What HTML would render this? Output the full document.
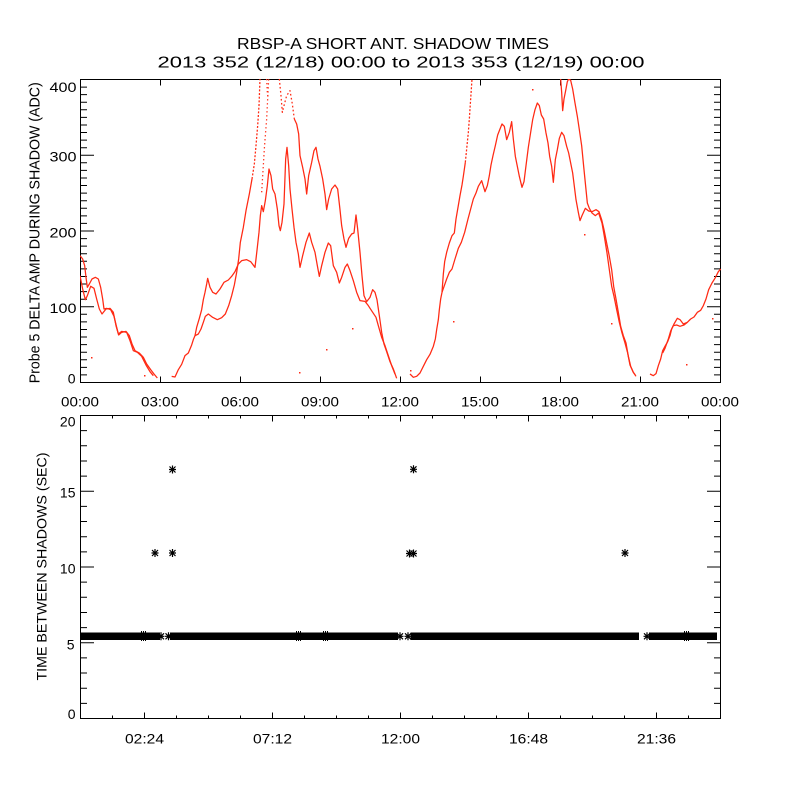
<!DOCTYPE html>
<html>
<head>
<meta charset="utf-8">
<style>
html,body{margin:0;padding:0;background:#fff;}
svg{display:block;}
text{font-family:"Liberation Sans","DejaVu Sans",sans-serif;fill:#000;}
</style>
</head>
<body>
<svg width="800" height="800" viewBox="0 0 800 800" xmlns="http://www.w3.org/2000/svg">
<rect x="0" y="0" width="800" height="800" fill="#fff"/>
<defs>
<clipPath id="cp1"><rect x="80" y="79" width="641" height="304"/></clipPath>
<g id="ast"><path d="M-3.5,0H3.5M0,-4V4M-3,-3L3,3M-3,3L3,-3" stroke="#000" stroke-width="1.2" fill="none"/></g>
</defs>

<!-- Titles -->
<text x="237" y="49" font-size="16" textLength="312" lengthAdjust="spacingAndGlyphs">RBSP-A SHORT ANT. SHADOW TIMES</text>
<text x="157.5" y="67.3" font-size="16" textLength="487" lengthAdjust="spacingAndGlyphs">2013 352 (12/18) 00:00 to 2013 353 (12/19) 00:00</text>

<!-- ===== TOP PANEL ===== -->
<rect x="80.5" y="79.5" width="640" height="303" fill="none" stroke="#000" stroke-width="1"/>
<g id="tyt" stroke="#000" stroke-width="1" fill="none">
<path d="M80.5,374.9h6.5M80.5,367.35h6.5M80.5,359.8h6.5M80.5,352.2h6.5M80.5,344.6h6.5M80.5,337.05h6.5M80.5,329.5h6.5M80.5,321.9h6.5M80.5,314.3h6.5M80.5,306.75h13.5M80.5,299.2h6.5M80.5,291.6h6.5M80.5,284h6.5M80.5,276.45h6.5M80.5,268.9h6.5M80.5,261.3h6.5M80.5,253.7h6.5M80.5,246.15h6.5M80.5,238.6h6.5M80.5,231h13.5M80.5,223.4h6.5M80.5,215.85h6.5M80.5,208.3h6.5M80.5,200.7h6.5M80.5,193.1h6.5M80.5,185.55h6.5M80.5,178h6.5M80.5,170.4h6.5M80.5,162.8h6.5M80.5,155.25h13.5M80.5,147.7h6.5M80.5,140.1h6.5M80.5,132.5h6.5M80.5,124.95h6.5M80.5,117.4h6.5M80.5,109.8h6.5M80.5,102.2h6.5M80.5,94.65h6.5M80.5,87.1h6.5"/>
</g>
<use href="#tyt" transform="translate(801,0) scale(-1,1)"/>
<g id="txt" stroke="#000" stroke-width="1" fill="none">
<path d="M160.5,382.5v-6M240.5,382.5v-6M320.5,382.5v-6M400.5,382.5v-6M480.5,382.5v-6M560.5,382.5v-6M640.5,382.5v-6"/>
</g>
<use href="#txt" transform="translate(0,462) scale(1,-1)"/>

<!-- top y labels -->
<g font-size="14" text-anchor="end">
<text x="76.5" y="92" textLength="27" lengthAdjust="spacingAndGlyphs">400</text>
<text x="76.5" y="161.7" textLength="27" lengthAdjust="spacingAndGlyphs">300</text>
<text x="76.5" y="237.5" textLength="27" lengthAdjust="spacingAndGlyphs">200</text>
<text x="76.5" y="313.2" textLength="27" lengthAdjust="spacingAndGlyphs">100</text>
<text x="75.5" y="383.3">0</text>
</g>
<!-- top x labels -->
<g font-size="14" text-anchor="middle">
<text x="80" y="406.7" textLength="38" lengthAdjust="spacingAndGlyphs">00:00</text>
<text x="160" y="406.7" textLength="38" lengthAdjust="spacingAndGlyphs">03:00</text>
<text x="240" y="406.7" textLength="38" lengthAdjust="spacingAndGlyphs">06:00</text>
<text x="320" y="406.7" textLength="38" lengthAdjust="spacingAndGlyphs">09:00</text>
<text x="400" y="406.7" textLength="38" lengthAdjust="spacingAndGlyphs">12:00</text>
<text x="480" y="406.7" textLength="38" lengthAdjust="spacingAndGlyphs">15:00</text>
<text x="560" y="406.7" textLength="38" lengthAdjust="spacingAndGlyphs">18:00</text>
<text x="640" y="406.7" textLength="38" lengthAdjust="spacingAndGlyphs">21:00</text>
<text x="720" y="406.7" textLength="38" lengthAdjust="spacingAndGlyphs">00:00</text>
</g>
<text transform="translate(39.5,383.3) rotate(-90)" font-size="15" textLength="301" lengthAdjust="spacingAndGlyphs">Probe 5 DELTA AMP DURING SHADOW (ADC)</text>

<!-- top data -->
<g clip-path="url(#cp1)">
<g transform="translate(80,79) scale(0.33333)" fill="none" stroke="#ff2a14" stroke-width="3.8" stroke-linejoin="round">
<polyline points="0,530 8,540 14,560 18,595 22,625 28,615 36,600 46,595 55,600 62,625 68,660 72,690 80,688 92,692 102,712 110,745 116,768 125,760 138,757 148,770 156,795 165,815 178,822 190,835 200,855 212,872 222,885 232,897"/>
<polyline points="0,590 8,630 16,662 22,650 32,622 42,628 50,660 58,690 66,705 78,690 90,688 100,700 108,740 115,765 125,757 140,760 150,785 160,815 172,820 185,832 198,858 210,878 220,890"/>
<polyline points="275,892 285,894 295,872 305,856 315,830 325,822 335,798 340,782 345,770"/>
<polyline points="345,770 350,745 358,718 365,692 370,662 375,640 380,615 383,598 390,625 398,640 408,645 420,630 432,610 445,603 455,592 465,578 475,555 485,545 500,542 512,548 525,565 528,540 532,505 537,460 541,410 545,380 550,398 556,365 562,320 567,270 573,290 578,330 585,345 592,390 597,440 601,455 606,430 612,375 617,240 621,205 626,260 630,330 636,390 642,445 648,490 655,525 660,565 668,530 678,490 688,462 695,490 705,520 712,560 718,592 725,560 735,520 745,492 752,500 760,560 770,580 778,612 785,595 795,565 802,555 810,575 820,605 830,640 840,665 855,667 865,680 878,700 888,715 895,740 905,775 915,800 925,830 935,860 945,885"/>
<polyline points="345,770 355,765 363,750 370,730 376,712 385,705 398,715 412,722 425,716 436,705 446,680 455,650 463,618 470,580 476,540 481,490 490,445 498,395 508,345 516,300"/>
<polyline points="516,300 523,255 528,200 533,140 537,80 540,0" stroke-dasharray="6 5"/>
<polyline points="598,0 603,50 607,100 612,80 620,50 630,35 637,75 643,120" stroke-dasharray="5 7"/>
<polyline points="643,120 650,135 656,165 660,230 668,265 675,300 680,345 686,290 695,250 702,215 708,205 714,240 720,262 728,300 735,345 740,392 746,360 755,330 765,318 773,330 780,392 785,440 792,480 798,505 806,478 815,465 822,462 828,408 833,450 840,520 846,590 852,650 860,668 870,655 878,632 885,640 891,662 898,710 905,760 912,795 920,818 930,848 940,870 950,898"/>
<polyline points="545,340 550,260 553,210 556,170 560,120 563,60 566,0" stroke-dasharray="4 8"/>
<polyline points="560,0 562,40 565,60" stroke-dasharray="4 8"/>
</g>
<g transform="translate(400,79) scale(0.33333)" fill="none" stroke="#ff2a14" stroke-width="3.8" stroke-linejoin="round">
<polyline points="30,885 40,895 50,892 60,882 70,862 80,842 90,826 100,802 106,780 110,752 115,722 118,692 122,660 126,640"/>
<polyline points="126,640 130,585 134,548 140,520 148,492 156,470 163,462 168,420 174,385 180,350 186,318 190,292 196,250"/>
<polyline points="196,250 200,210 205,160 208,120 212,60 216,0" stroke-dasharray="6 5"/>
<polyline points="126,640 133,620 140,600 148,580 156,570 165,540 175,508 184,490 194,460 204,420 212,390 220,360 228,342 235,322 245,305 255,338 262,320 268,290 273,258 279,230 286,200 293,168 300,150 306,135 313,142 320,182 328,160 335,128 340,180 346,232 352,262 358,292 366,325 372,308 378,260 385,205 392,160 398,122 405,92 412,72 418,80 424,108 431,120 438,162 444,192 449,232 455,262 460,310 466,242 472,212 478,178 485,160 492,170 500,202 506,222 512,252 518,282 523,322 528,362 535,400 540,425 546,410 556,388 566,396 576,398 588,392 597,398 605,422 612,452 620,492 628,532 635,572 641,622 648,660 655,700 662,742 670,770 678,792 685,832 692,862 700,880 708,892"/>
<polyline points="482,0 485,40 488,95 492,60 497,35 502,8 506,0 512,4 518,30 525,72 532,112 538,152 545,200 551,262 557,322 562,372 568,388 576,402 586,410 596,402 606,432 613,472 621,522 628,572 635,622 642,652 650,692 658,730 666,762 675,792 683,822 690,858 700,880 706,888"/>
<polyline points="750,885 760,890 768,884 775,860 782,840 788,815 796,800 803,788 810,770 815,750 822,735 832,718 840,722 850,735 862,730 872,720 882,714 892,700 902,694 910,680 918,660 926,632 936,612 946,596 955,578 962,570"/>
<polyline points="788,822 795,808 805,780 812,756 820,740 830,738 840,742 852,738 862,730"/>
</g>
<g fill="#ff2a14">
<rect x="91" y="357" width="1.5" height="1.5"/>
<rect x="144" y="375" width="1.5" height="1.5"/>
<rect x="299" y="372" width="1.5" height="1.5"/>
<rect x="326" y="349" width="1.5" height="1.5"/>
<rect x="352" y="328" width="1.5" height="1.5"/>
<rect x="410" y="370" width="1.5" height="1.5"/>
<rect x="453" y="321" width="1.5" height="1.5"/>
<rect x="532" y="89" width="1.5" height="1.5"/>
<rect x="584" y="234" width="1.5" height="1.5"/>
<rect x="611" y="323" width="1.5" height="1.5"/>
<rect x="686" y="364" width="1.5" height="1.5"/>
<rect x="712" y="318" width="1.5" height="1.5"/>
</g>
</g>

<!-- ===== BOTTOM PANEL ===== -->
<rect x="80.5" y="415.5" width="640" height="303" fill="none" stroke="#000" stroke-width="1"/>
<g id="byt" stroke="#000" stroke-width="1" fill="none">
<path d="M80.5,703.35h6.5M80.5,688.2h6.5M80.5,673.05h6.5M80.5,657.9h6.5M80.5,642.75h13.5M80.5,627.6h6.5M80.5,612.45h6.5M80.5,597.3h6.5M80.5,582.15h6.5M80.5,567h13.5M80.5,551.85h6.5M80.5,536.7h6.5M80.5,521.55h6.5M80.5,506.4h6.5M80.5,491.25h13.5M80.5,476.1h6.5M80.5,460.95h6.5M80.5,445.8h6.5M80.5,430.65h6.5"/>
</g>
<use href="#byt" transform="translate(801,0) scale(-1,1)"/>
<g id="bxt" stroke="#000" stroke-width="1" fill="none">
<path d="M112.5,718.5v-3M144.5,718.5v-6M176.5,718.5v-3M208.5,718.5v-3M240.5,718.5v-3M272.5,718.5v-6M304.5,718.5v-3M336.5,718.5v-3M368.5,718.5v-3M400.5,718.5v-6M432.5,718.5v-3M464.5,718.5v-3M496.5,718.5v-3M528.5,718.5v-6M560.5,718.5v-3M592.5,718.5v-3M624.5,718.5v-3M656.5,718.5v-6M688.5,718.5v-3"/>
</g>
<use href="#bxt" transform="translate(0,1134) scale(1,-1)"/>

<g font-size="14" text-anchor="end">
<text x="75.5" y="426.7">20</text>
<text x="75.5" y="497.5">15</text>
<text x="75.5" y="573.3">10</text>
<text x="74.5" y="649.3">5</text>
<text x="75.5" y="719">0</text>
</g>
<g font-size="14" text-anchor="middle">
<text x="144.5" y="743.3" textLength="39" lengthAdjust="spacingAndGlyphs">02:24</text>
<text x="272.5" y="743.3" textLength="39" lengthAdjust="spacingAndGlyphs">07:12</text>
<text x="400.5" y="743.3" textLength="39" lengthAdjust="spacingAndGlyphs">12:00</text>
<text x="528.5" y="743.3" textLength="39" lengthAdjust="spacingAndGlyphs">16:48</text>
<text x="656.5" y="743.3" textLength="39" lengthAdjust="spacingAndGlyphs">21:36</text>
</g>
<text transform="translate(46.5,680.5) rotate(-90)" font-size="14" textLength="228" lengthAdjust="spacingAndGlyphs">TIME BETWEEN SHADOWS (SEC)</text>

<!-- band of asterisks -->
<g fill="#000">
<rect x="81" y="632.5" width="79" height="7.5"/>
<rect x="170" y="632.5" width="228" height="7.5"/>
<rect x="410.5" y="632.5" width="228.5" height="7.5"/>
<rect x="649" y="632.5" width="68" height="7.5"/>
</g>
<g stroke="#000" stroke-width="1">
<path d="M141.5,631v10M143.5,631v10M145.5,631v10M296.5,631v10M298.5,631v10M300.5,631v10M323.5,631v10M325.5,631v10M327.5,631v10M684.5,631v10M686.5,631v10M688.5,631v10"/>
</g>
<use href="#ast" x="161" y="636.3"/>
<use href="#ast" x="168.5" y="636.3"/>
<use href="#ast" x="400" y="636.3"/>
<use href="#ast" x="408" y="636.3"/>
<use href="#ast" x="647" y="636.3"/>
<!-- outliers -->
<use href="#ast" x="155" y="553"/>
<use href="#ast" x="172.5" y="553"/>
<use href="#ast" x="172.5" y="469.5"/>
<use href="#ast" x="409.5" y="553.5"/>
<use href="#ast" x="413.5" y="553.5"/>
<use href="#ast" x="413.5" y="469.3"/>
<use href="#ast" x="625" y="553"/>
</svg>
</body>
</html>
